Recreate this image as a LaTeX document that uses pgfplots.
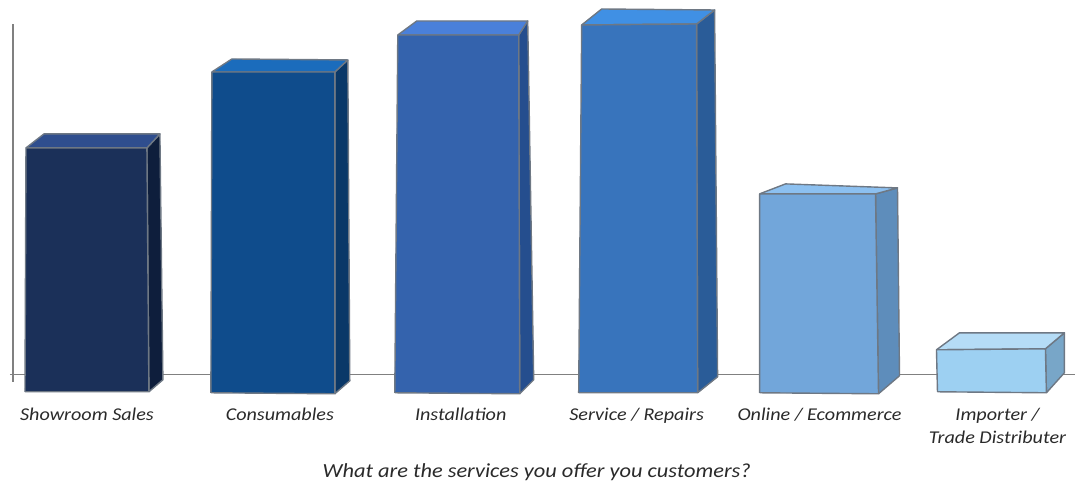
\documentclass[border=0pt]{standalone}
\usepackage{fontspec}
\setmainfont{Carlito}
\newfontfamily\handfont[FakeStretch=1.12,ItalicFeatures={FakeStretch=1.12}]{Carlito}
\usepackage{pgfplots}
\pgfplotsset{compat=1.18}
\definecolor{edge}{HTML}{6E7884}
\definecolor{labeltext}{HTML}{2A2A2A}
\definecolor{axisline}{HTML}{808080}
% face colours: front, side, top for each service
\definecolor{aF}{HTML}{1B3059}\definecolor{aS}{HTML}{0E1E3C}\definecolor{aT}{HTML}{2F4E8E}
\definecolor{bF}{HTML}{0F4C8C}\definecolor{bS}{HTML}{0A3868}\definecolor{bT}{HTML}{1B6CBC}
\definecolor{cF}{HTML}{3463AD}\definecolor{cS}{HTML}{254E8E}\definecolor{cT}{HTML}{4A80DA}
\definecolor{dF}{HTML}{3874BC}\definecolor{dS}{HTML}{2A5C98}\definecolor{dT}{HTML}{4090E4}
\definecolor{eF}{HTML}{72A6DA}\definecolor{eS}{HTML}{5E8DBB}\definecolor{eT}{HTML}{8CC0F0}
\definecolor{fF}{HTML}{9DD0F2}\definecolor{fS}{HTML}{78A6C8}\definecolor{fT}{HTML}{B5DCF6}
\pgfplotsset{face/.style={draw=edge, line width=1.4pt, line join=round, fill=#1, mark=none}}
\begin{document}
\begin{tikzpicture}
\begin{axis}[
  scale only axis, width=1063pt, height=351pt,
  xmin=13, xmax=1076, ymin=0, ymax=351,
  clip=false,
  axis x line=bottom, axis y line=left,
  axis line style={-, draw=axisline, line width=1.2pt},
  ytick=\empty,
  xtick={87,280,461,637,820,998},
  xticklabels={Showroom Sales,Consumables,Installation,Service / Repairs,Online / Ecommerce,{Importer /\\Trade Distributer}},
  x tick style={draw=none},
  every x tick label/.append style={align=center, text=labeltext, font=\handfont\fontsize{18}{23}\selectfont\itshape, anchor=north, yshift=-28pt},
]
% page extent and the short overshoot of the axis lines
\addplot[draw=none, mark=none] coordinates {(0,-111) (1076,375)};
\addplot[draw=axisline, line width=1.2pt, mark=none] coordinates {(10,0) (13,0)};
\addplot[draw=axisline, line width=1.2pt, mark=none] coordinates {(13,0) (13,-7)};

% Showroom Sales
\addplot[face=aS] coordinates {(149,-17) (163,-5) (160,241) (147,227) (149,-17)};
\addplot[face=aT] coordinates {(26,227) (147,227) (160,241) (44,241) (26,227)};
\addplot[face=aF] coordinates {(25,-17) (149,-17) (147,227) (26,227) (25,-17)};
% Consumables
\addplot[face=bS] coordinates {(335,-19) (350,-6) (348,315) (335,303) (335,-19)};
\addplot[face=bT] coordinates {(212,303) (335,303) (348,315) (232,316) (212,303)};
\addplot[face=bF] coordinates {(211,-18) (335,-19) (335,303) (212,303) (211,-18)};
% Installation
\addplot[face=cS] coordinates {(520,-19) (534,-5) (528,354) (519,340) (520,-19)};
\addplot[face=cT] coordinates {(398,340) (519,340) (528,354) (417,354) (398,340)};
\addplot[face=cF] coordinates {(395,-18) (520,-19) (519,340) (398,340) (395,-18)};
% Service / Repairs
\addplot[face=dS] coordinates {(698,-18) (718,-2) (715,365) (697,351) (698,-18)};
\addplot[face=dT] coordinates {(582,350) (697,351) (715,365) (602,366) (582,350)};
\addplot[face=dF] coordinates {(579,-18) (698,-18) (697,351) (582,350) (579,-18)};
% Online / Ecommerce
\addplot[face=eS] coordinates {(879,-19) (900,-1) (898,187) (876,181) (879,-19)};
\addplot[face=eT] coordinates {(760,181) (876,181) (898,187) (786,191) (760,181)};
\addplot[face=eF] coordinates {(760,-18) (879,-19) (876,181) (760,181) (760,-18)};
% Importer / Trade Distributer
\addplot[face=fS] coordinates {(1047,-18) (1065,2) (1065,42) (1046,26) (1047,-18)};
\addplot[face=fT] coordinates {(937,25) (1046,26) (1065,42) (960,42) (937,25)};
\addplot[face=fF] coordinates {(938,-17) (1047,-18) (1046,26) (937,25) (938,-17)};

\node[text=labeltext, font=\handfont\fontsize{20}{24}\selectfont\itshape] at (axis cs:537,-97)
  {What are the services you offer you customers?};
\end{axis}
\end{tikzpicture}
\end{document}
